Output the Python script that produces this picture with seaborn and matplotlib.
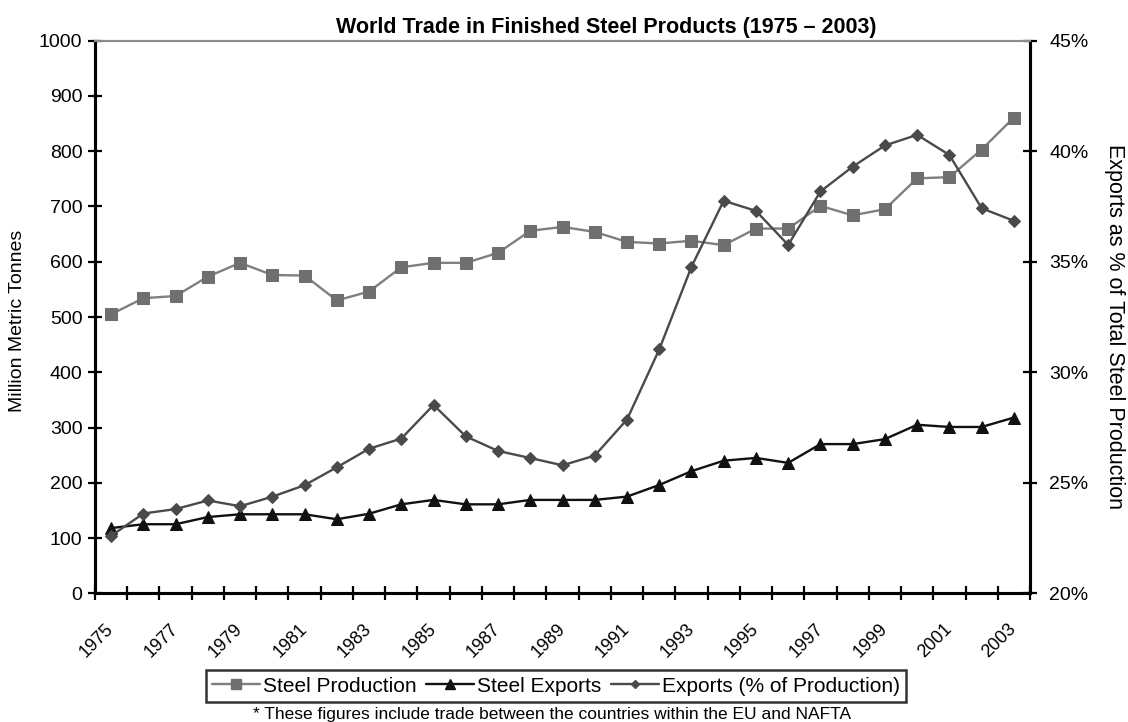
import matplotlib
matplotlib.use("Agg")
import matplotlib.pyplot as plt
from matplotlib.lines import Line2D
from matplotlib.ticker import FixedLocator, FuncFormatter
from matplotlib.transforms import ScaledTranslation
import numpy as np
import pandas as pd
import seaborn as sns

# Annual world figures, 1975-2003
years = list(range(1975, 2004))
steel_production = [505, 534, 538, 573, 598, 576, 575, 530, 546, 590, 598, 598, 616,
                    656, 663, 654, 636, 633, 638, 630, 660, 660, 701, 684, 695, 751,
                    753, 803, 861]
steel_exports = [118, 125, 125, 138, 143, 143, 143, 134, 144, 161, 169, 161, 161,
                 169, 169, 169, 175, 196, 221, 240, 245, 236, 270, 270, 279, 305,
                 301, 301, 318]
exports_pct = [22.60, 23.61, 23.81, 24.20, 23.94, 24.37, 24.89, 25.70, 26.54, 27.00,
               28.52, 27.10, 26.44, 26.12, 25.79, 26.23, 27.86, 31.03, 34.77, 37.76,
               37.30, 35.76, 38.18, 39.30, 40.26, 40.74, 39.83, 37.42, 36.85]

tick_years = years[::2]

df = pd.DataFrame({
    "idx": np.arange(len(years)),
    "year": years,
    "production": steel_production,
    "exports": steel_exports,
    "pct": exports_pct,
})

sns.set_theme(style="white")
plt.rcParams["font.family"] = ["Liberation Sans", "DejaVu Sans"]
plt.rcParams["text.color"] = "black"
plt.rcParams["xtick.color"] = "black"
plt.rcParams["ytick.color"] = "black"
plt.rcParams["axes.labelcolor"] = "black"

W, H = 1128, 722
fig = plt.figure(figsize=(W / 100, H / 100), dpi=100)
ax = fig.add_axes([95 / W, 1 - 593.3 / H, (1030 - 95) / W, (593.3 - 40.7) / H])
ax2 = ax.twinx()

c_prod = "#7f7f7f"
c_prod_face = "#6f6f6f"
c_exp = "#111111"
c_pct = "#4a4a4a"
lw = 1.7

sns.lineplot(data=df, x="idx", y="production", ax=ax, color=c_prod, linewidth=lw,
             marker="s", markersize=8.5, markeredgecolor=c_prod_face,
             markerfacecolor=c_prod_face, zorder=3)
sns.lineplot(data=df, x="idx", y="exports", ax=ax, color=c_exp, linewidth=lw,
             marker="^", markersize=8.5, markeredgecolor=c_exp, markerfacecolor=c_exp,
             zorder=3)
sns.lineplot(data=df, x="idx", y="pct", ax=ax2, color=c_pct, linewidth=lw,
             marker="D", markersize=6.5, markeredgecolor=c_pct, markerfacecolor=c_pct,
             zorder=3)

# Left axis: tonnes
ax.set_ylim(0, 1000)
ax.set_yticks(np.arange(0, 1001, 100))
ax.set_ylabel("")

# Right axis: share of production
ax2.set_ylim(20, 45)
ax2.set_yticks([20, 25, 30, 35, 40, 45])
ax2.yaxis.set_major_formatter(FuncFormatter(lambda v, p: f"{v:.0f}%"))
ax2.set_ylabel("")

# Category axis: marks between years, labels on every other year
ax.set_xlim(-0.5, len(years) - 0.5)
ax.set_xticks([years.index(y) for y in tick_years])
ax.set_xticklabels([str(y) for y in tick_years], rotation=45, ha="right",
                   rotation_mode="anchor", va="center")
ax.xaxis.set_minor_locator(FixedLocator(np.arange(-0.5, len(years), 1.0)))
ax.set_xlabel("")
shift = ScaledTranslation(-4 / 100, 0, fig.dpi_scale_trans)
for lab in ax.get_xticklabels():
    lab.set_transform(lab.get_transform() + shift)

ax.tick_params(axis="x", which="major", length=0, pad=24, labelsize=13)
ax.tick_params(axis="x", which="minor", direction="inout", length=10, width=1.6,
               color="black", bottom=True)
ax.tick_params(axis="y", direction="inout", length=10, width=1.6, color="black",
               labelsize=14, left=True, pad=4)
ax2.tick_params(axis="y", direction="inout", length=10, width=1.6, color="black",
                labelsize=14, right=True, pad=9)

for a in (ax, ax2):
    a.grid(False)
    for side in ("left", "right", "bottom"):
        a.spines[side].set_color("black")
        a.spines[side].set_linewidth(2.2)
    a.spines["top"].set_color("#8c8c8c")
    a.spines["top"].set_linewidth(1.5)
ax.patch.set_visible(False)

fig.text(18 / W, 1 - 321 / H, "Million Metric Tonnes", rotation=90,
         ha="center", va="center", fontsize=14)
fig.text(1115 / W, 1 - 326 / H, "Exports as % of Total Steel Production", rotation=270,
         ha="center", va="center", fontsize=15.5)

fig.text(606 / W, 1 - 27 / H, "World Trade in Finished Steel Products (1975 – 2003)",
         ha="center", va="center", fontsize=15.5, fontweight="bold")

handles = [
    Line2D([], [], color=c_prod, linewidth=lw, marker="s", markersize=7,
           markerfacecolor=c_prod_face, markeredgecolor=c_prod_face),
    Line2D([], [], color=c_exp, linewidth=lw, marker="^", markersize=6.5,
           markerfacecolor=c_exp, markeredgecolor=c_exp),
    Line2D([], [], color=c_pct, linewidth=lw, marker="D", markersize=4.5,
           markerfacecolor=c_pct, markeredgecolor=c_pct),
]
labels = ["Steel Production", "Steel Exports", "Exports (% of Production)"]
leg = fig.legend(handles, labels, loc="center", bbox_to_anchor=(556 / W, 1 - 686 / H),
                 ncol=3, fontsize=15, frameon=True, fancybox=False, edgecolor="black",
                 handlelength=2.3, handletextpad=0.15, columnspacing=0.45,
                 borderpad=0.3, borderaxespad=0)
leg.get_frame().set_linewidth(1.8)
for t in leg.get_texts():
    t.set_color("black")

fig.text(552 / W, 1 - 714 / H,
         "* These figures include trade between the countries within the EU and NAFTA",
         ha="center", va="center", fontsize=12.5)

fig.savefig("out.png", dpi=100)
